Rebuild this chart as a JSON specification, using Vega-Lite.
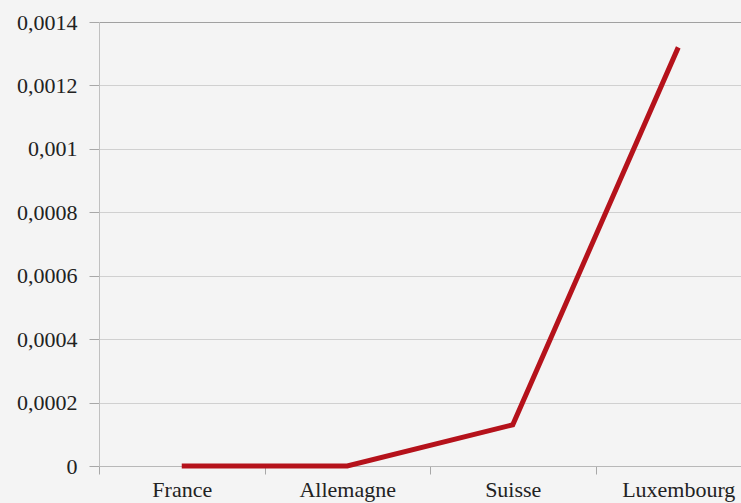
{
  "$schema": "https://vega.github.io/schema/vega-lite/v6.json",
  "width": 662,
  "height": 444,
  "autosize": {"type": "none"},
  "padding": {"left": 99, "top": 22, "right": 0, "bottom": 37},
  "background": "#f4f4f4",
  "config": {
    "view": {"stroke": null},
    "font": "Liberation Serif, DejaVu Serif, serif",
    "axis": {"labelFont": "Liberation Serif, DejaVu Serif, serif", "labelFontSize": 22, "labelColor": "#222222"}
  },
  "data": {
    "values": [
      {"pays": "France", "valeur": 0},
      {"pays": "Allemagne", "valeur": 0},
      {"pays": "Suisse", "valeur": 0.00013},
      {"pays": "Luxembourg", "valeur": 0.00132}
    ]
  },
  "mark": {"type": "line", "color": "#b5121b", "strokeWidth": 5, "strokeJoin": "miter", "strokeCap": "butt"},
  "encoding": {
    "x": {
      "field": "pays",
      "type": "nominal",
      "sort": null,
      "scale": {"type": "band", "paddingInner": 0, "paddingOuter": 0},
      "axis": {
        "title": null,
        "labelAngle": 0,
        "tickBand": "extent",
        "tickSize": 8,
        "tickColor": "#a8a8a8",
        "domainColor": "#b8b8b8",
        "labelPadding": 5,
        "grid": false
      }
    },
    "y": {
      "field": "valeur",
      "type": "quantitative",
      "scale": {"domain": [0, 0.0014], "nice": false},
      "axis": {
        "title": null,
        "values": [0, 0.0002, 0.0004, 0.0006, 0.0008, 0.001, 0.0012, 0.0014],
        "labelExpr": "replace(format(datum.value, '~g'), '.', ',')",
        "tickSize": 10,
        "tickColor": "#a8a8a8",
        "domainColor": "#c0c0c0",
        "labelPadding": 12,
        "grid": true,
        "gridColor": {"condition": {"test": "datum.value >= 0.0014", "value": "#a0a0a0"}, "value": "#d0d0d0"}
      }
    }
  }
}
